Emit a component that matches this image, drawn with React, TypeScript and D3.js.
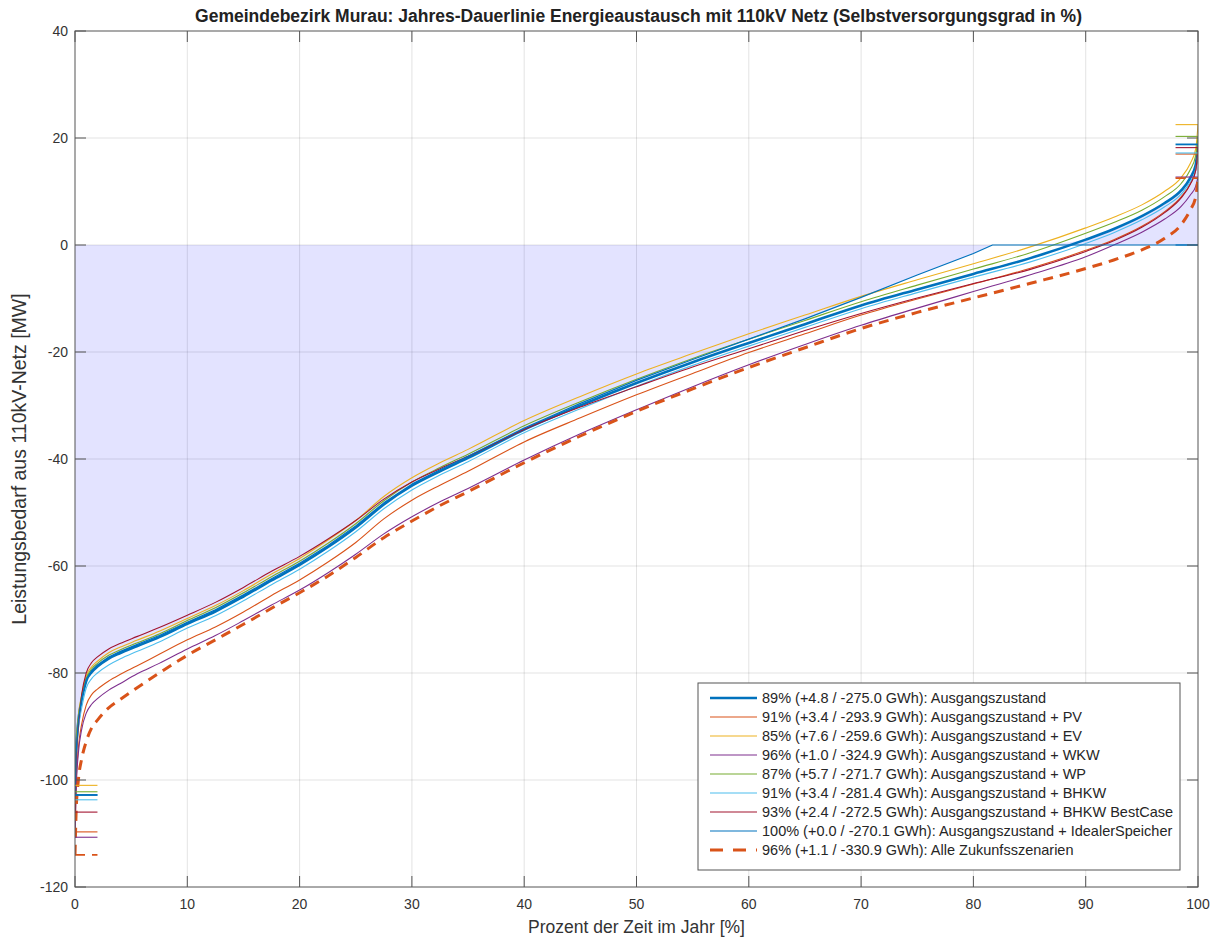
import React from "react";
import * as d3 from "d3";

// Percent of the year (duration curve abscissa), shared by most series
const pct = [0, 0.1, 0.3, 0.6, 1, 1.5, 2, 3, 4, 5.5, 7.5, 10, 12.5, 15, 17.5, 20, 22.5, 25, 27.5, 30, 32.5, 35, 40, 45, 50, 55, 60, 65, 70, 75, 80, 85, 90, 92.5, 95, 97, 98.5, 99.3, 99.8, 100];

// Power drawn from the 110 kV grid [MW], sorted duration curves
const ausgangszustand = [-102.8, -95, -89, -85, -81.5, -79.8, -78.8, -77.3, -76.3, -75, -73.3, -70.8, -68.5, -65.7, -62.7, -59.8, -56.5, -52.8, -48.5, -45, -42.3, -39.8, -34.5, -30, -25.8, -21.9, -18.3, -14.8, -11.3, -8.3, -5.4, -2.5, 1.0, 3.0, 5.4, 7.8, 10.2, 12.5, 15, 18.8];
const mitPV = [-109.7, -101, -94, -89.5, -86, -84, -83, -81.5, -80.3, -78.7, -76.5, -73.8, -71.4, -68.6, -65.5, -62.6, -59.3, -55.6, -51.2, -47.7, -44.9, -42.3, -36.8, -32.3, -28, -24, -20.1, -16.6, -13.1, -10.1, -7.3, -4.4, -1, 1, 3.5, 6.2, 9, 11.4, 14, 17];
const mitEV = [-101, -94, -88, -84, -80.5, -78.8, -77.8, -76.2, -75.2, -73.9, -72.2, -69.8, -67.4, -64.6, -61.5, -58.6, -55.2, -51.5, -47, -43.5, -40.7, -38.2, -32.8, -28.3, -24.1, -20.3, -16.6, -13.1, -9.6, -6.5, -3.5, -0.4, 3.2, 5.2, 7.5, 10, 12.6, 15.2, 18, 22.5];
const mitWKW = [-110.7, -102, -95, -90.5, -87.5, -85.8, -84.8, -83.2, -82, -80.2, -78.2, -75.5, -73, -70.2, -67.3, -64.5, -61.3, -57.8, -54, -50.8, -48, -45.5, -40.2, -35.3, -30.8, -26.5, -22.4, -18.6, -15, -11.8, -8.7, -5.6, -2.2, 0, 2.4, 4.8, 7.2, 9.3, 11, 12.7];
const mitWP = [-102.2, -94.5, -88.5, -84.5, -81, -79.2, -78.2, -76.7, -75.7, -74.4, -72.7, -70.2, -67.8, -65, -62, -59.1, -55.8, -52.1, -47.8, -44.3, -41.6, -39.1, -33.8, -29.3, -25.1, -21.2, -17.6, -14.1, -10.6, -7.5, -4.5, -1.5, 2.2, 4.2, 6.5, 9, 11.5, 14, 16.8, 20.3];
const mitBHKW = [-103.7, -96.5, -90.5, -86.5, -82.8, -81, -80, -78.5, -77.4, -76, -74.2, -71.6, -69.3, -66.5, -63.5, -60.6, -57.3, -53.6, -49.3, -45.8, -43, -40.5, -35.1, -30.6, -26.4, -22.5, -18.9, -15.4, -11.9, -8.9, -6, -3.2, 0.3, 2.3, 4.7, 7.1, 9.5, 11.8, 14.2, 17.2];
const mitBHKWBest = [-106, -97, -90, -84, -80, -78, -77, -75.5, -74.5, -73.2, -71.5, -69.2, -66.8, -64, -61, -58.2, -55, -51.5, -47.5, -44.3, -41.8, -39.5, -34.5, -30.3, -26.5, -22.8, -19.4, -16, -12.8, -9.9, -7.2, -4.6, -1.2, 0.8, 3.3, 6, 8.8, 11.3, 14, 18.2];
const alleSzenarien = [-114, -106, -100, -96, -92.8, -90.2, -88.8, -86.5, -85, -82.8, -80, -76.7, -73.8, -70.9, -67.9, -65, -61.9, -58.4, -54.7, -51.6, -48.7, -46.1, -40.7, -35.7, -31.1, -26.9, -22.9, -19.2, -15.6, -12.6, -9.9, -7.2, -4.4, -2.8, -0.9, 1.2, 3.8, 6.5, 9, 12.5];

// Ideal storage curve has its own abscissa (it reaches zero at ~81.7 %)
const idealPct = [0, 0.1, 0.3, 0.6, 1, 1.5, 2, 3, 4, 5.5, 7.5, 10, 12.5, 15, 17.5, 20, 22.5, 25, 27.5, 30, 32.5, 35, 40, 45, 50, 55, 60, 65, 70, 75, 80, 81.7, 90, 100];
const idealerSpeicher = [-102.8, -94.8, -88.7, -84.7, -81.2, -79.5, -78.5, -77, -76, -74.7, -73, -70.5, -68.2, -65.4, -62.4, -59.5, -56.2, -52.5, -48.2, -44.7, -42, -39.5, -34.2, -29.6, -25.3, -21.4, -17.6, -13.8, -9.8, -5.6, -1.6, 0, 0, 0];

const legendLabels = [
  "89% (+4.8 / -275.0 GWh): Ausgangszustand",
  "91% (+3.4 / -293.9 GWh): Ausgangszustand + PV",
  "85% (+7.6 / -259.6 GWh): Ausgangszustand + EV",
  "96% (+1.0 / -324.9 GWh): Ausgangszustand + WKW",
  "87% (+5.7 / -271.7 GWh): Ausgangszustand + WP",
  "91% (+3.4 / -281.4 GWh): Ausgangszustand + BHKW",
  "93% (+2.4 / -272.5 GWh): Ausgangszustand + BHKW BestCase",
  "100% (+0.0 / -270.1 GWh): Ausgangszustand + IdealerSpeicher",
  "96% (+1.1 / -330.9 GWh): Alle Zukunfsszenarien",
];

const xTicks = [0, 10, 20, 30, 40, 50, 60, 70, 80, 90, 100];
const yTicks = [40, 20, 0, -20, -40, -60, -80, -100, -120];

const titleText = "Gemeindebezirk Murau: Jahres-Dauerlinie Energieaustausch mit 110kV Netz (Selbstversorgungsgrad in %)";
const xLabel = "Prozent der Zeit im Jahr [%]";
const yLabel = "Leistungsbedarf aus 110kV-Netz [MW]";

type Series = {
  label: string;
  xs: number[];
  ys: number[];
  color: string;
  width: number;
  dash?: string;
  linear?: boolean;
};

const series: Series[] = [
  { label: legendLabels[0], xs: pct, ys: ausgangszustand, color: "#0072BD", width: 2.6 },
  { label: legendLabels[1], xs: pct, ys: mitPV, color: "#D95319", width: 1.1 },
  { label: legendLabels[2], xs: pct, ys: mitEV, color: "#EDB120", width: 1.1 },
  { label: legendLabels[3], xs: pct, ys: mitWKW, color: "#7E2F8E", width: 1.1 },
  { label: legendLabels[4], xs: pct, ys: mitWP, color: "#77AC30", width: 1.1 },
  { label: legendLabels[5], xs: pct, ys: mitBHKW, color: "#4DBEEE", width: 1.1 },
  { label: legendLabels[6], xs: pct, ys: mitBHKWBest, color: "#A2142F", width: 1.1 },
  { label: legendLabels[7], xs: idealPct, ys: idealerSpeicher, color: "#0072BD", width: 1.2, linear: true },
  { label: legendLabels[8], xs: pct, ys: alleSzenarien, color: "#D95319", width: 3, dash: "10 7" },
];

const FONT = "'Liberation Sans', Arial, Helvetica, sans-serif";

export default function App() {
  const W = 1215;
  const H = 940;
  const left = 75, right = 1198, top = 31, bottom = 887;
  const x = d3.scaleLinear().domain([0, 100]).range([left, right]);
  const y = d3.scaleLinear().domain([-120, 40]).range([bottom, top]);
  const tickLen = 11;

  const lineFor = (s: Series) =>
    d3
      .line<number>()
      .x((_, i) => x(s.xs[i]))
      .y((v) => y(v))
      .curve(s.linear ? d3.curveLinear : d3.curveMonotoneX)(s.ys) || "";

  // Shaded energy areas: deficit covered by ideal storage, and the surplus that feeds it
  const idealArea =
    d3
      .area<number>()
      .x((_, i) => x(idealPct[i]))
      .y0(y(0))
      .y1((v) => y(v))
      .curve(d3.curveLinear)(idealerSpeicher) || "";
  const surplusArea =
    d3
      .area<number>()
      .x((_, i) => x(pct[i]))
      .y0(y(0))
      .y1((v) => y(Math.max(0, v)))
      .curve(d3.curveMonotoneX)(ausgangszustand) || "";

  const legendX = 698, legendY = 683, legendW = 482, legendH = 187;
  const rowStart = 698, rowStep = 19.0;

  return (
    <svg
      width={W}
      height={H}
      viewBox={`0 0 ${W} ${H}`}
      style={{ position: "absolute", left: 0, top: 0, display: "block", background: "#fff" }}
      fontFamily={FONT}
    >
      <rect x={0} y={0} width={W} height={H} fill="#fff" />
      <defs>
        <clipPath id="plotClip">
          <rect x={left} y={top} width={right - left} height={bottom - top} />
        </clipPath>
      </defs>

      {/* grid */}
      <g stroke="#262626" strokeOpacity={0.13} strokeWidth={1}>
        {xTicks.slice(1, -1).map((t) => (
          <line key={"gx" + t} x1={x(t)} x2={x(t)} y1={top} y2={bottom} />
        ))}
        {yTicks.slice(1, -1).map((t) => (
          <line key={"gy" + t} x1={left} x2={right} y1={y(t)} y2={y(t)} />
        ))}
      </g>

      {/* shaded areas */}
      <g clipPath="url(#plotClip)">
        <path d={idealArea} fill="#0000ff" fillOpacity={0.11} stroke="none" />
        <path d={surplusArea} fill="#0000ff" fillOpacity={0.11} stroke="none" />
      </g>

      {/* duration curves */}
      <g clipPath="url(#plotClip)" fill="none" strokeLinejoin="round">
        {series.map((s, i) => (
          <path
            key={"s" + i}
            d={lineFor(s)}
            stroke={s.color}
            strokeWidth={s.width}
            strokeDasharray={s.dash}
          />
        ))}
        {/* minimum and maximum markers at the curve ends */}
        {series.map((s, i) => {
          const lo = d3.min(s.ys) as number;
          const hi = d3.max(s.ys) as number;
          const w = Math.min(s.width, 1.8);
          return (
            <g key={"m" + i} stroke={s.color} strokeWidth={w} strokeDasharray={s.dash}>
              <line x1={x(0)} x2={x(2)} y1={y(lo)} y2={y(lo)} />
              <line x1={x(98)} x2={x(100)} y1={y(hi)} y2={y(hi)} />
            </g>
          );
        })}
      </g>

      {/* axes box with inward ticks */}
      <g stroke="#555" strokeWidth={1} fill="none">
        <rect x={left} y={top} width={right - left} height={bottom - top} />
        {xTicks.map((t) => (
          <g key={"tx" + t}>
            <line x1={x(t)} x2={x(t)} y1={bottom} y2={bottom - tickLen} />
            <line x1={x(t)} x2={x(t)} y1={top} y2={top + tickLen} />
          </g>
        ))}
        {yTicks.map((t) => (
          <g key={"ty" + t}>
            <line x1={left} x2={left + tickLen} y1={y(t)} y2={y(t)} />
            <line x1={right} x2={right - tickLen} y1={y(t)} y2={y(t)} />
          </g>
        ))}
      </g>

      {/* tick labels */}
      <g fill="#333" fontSize={14}>
        {xTicks.map((t) => (
          <text key={"lx" + t} x={x(t)} y={bottom + 22} textAnchor="middle">
            {t}
          </text>
        ))}
        {yTicks.map((t) => (
          <text key={"ly" + t} x={left - 7} y={y(t) + 5} textAnchor="end">
            {t}
          </text>
        ))}
      </g>

      {/* axis labels and title */}
      <text x={(left + right) / 2} y={933} textAnchor="middle" fontSize={17.5} fill="#333">
        {xLabel}
      </text>
      <text
        transform={`translate(26, ${(top + bottom) / 2}) rotate(-90)`}
        textAnchor="middle"
        fontSize={19.5}
        fill="#333"
      >
        {yLabel}
      </text>
      <text x={(left + right) / 2 + 2} y={22} textAnchor="middle" fontSize={17.5} fontWeight="bold" fill="#222">
        {titleText}
      </text>

      {/* legend */}
      <g>
        <rect x={legendX} y={legendY} width={legendW} height={legendH} fill="#fff" stroke="#555" strokeWidth={1} />
        {series.map((s, i) => {
          const cy = rowStart + i * rowStep;
          return (
            <g key={"lg" + i}>
              <line
                x1={710}
                x2={757}
                y1={cy}
                y2={cy}
                stroke={s.color}
                strokeWidth={s.width}
                strokeDasharray={s.dash ? "13 10" : undefined}
              />
              <text x={762} y={cy + 5} fontSize={14.5} fill="#262626">
                {s.label}
              </text>
            </g>
          );
        })}
      </g>
    </svg>
  );
}
